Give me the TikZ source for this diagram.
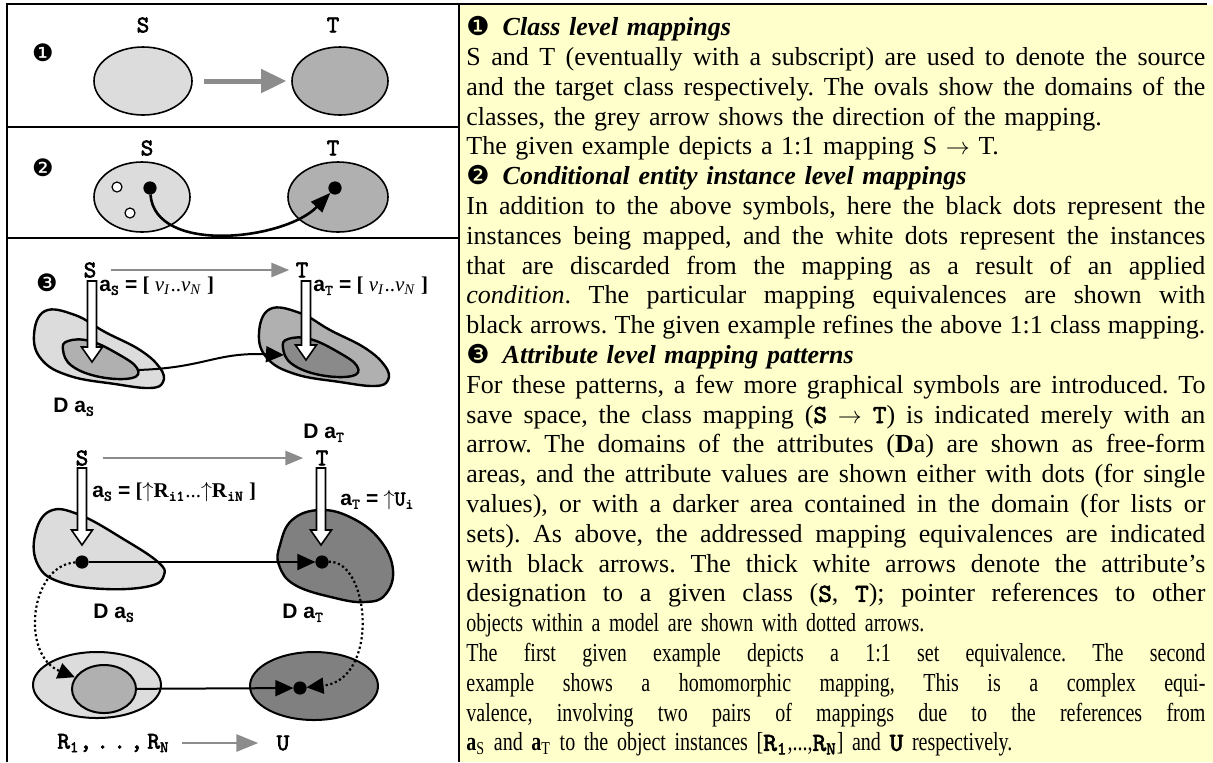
\documentclass[tikz,border=0pt]{standalone}
\usepackage{fontspec}
\setmainfont{Liberation Serif}
\newfontfamily\arialfont{Liberation Sans}
\newfontfamily\dingfont{DejaVu Sans}
\newfontfamily\condfont[FakeStretch=0.77]{Liberation Serif}
\newfontfamily\slabfont[FakeBold=2.5]{lmmono10-regular.otf}
\usepackage{tikz}
\usetikzlibrary{shapes.geometric}
\usetikzlibrary{arrows.meta}
\usepackage{xcolor}

\definecolor{notebg}{HTML}{FFFFCC}
\definecolor{lightdom}{HTML}{DCDCDC}
\definecolor{middom}{HTML}{B0B0B0}
\definecolor{darkdom}{HTML}{8A8A8A}
\definecolor{deepdom}{HTML}{808080}
\definecolor{mapgrey}{HTML}{8C8C8C}

\newlength{\colw}
\setlength{\colw}{369.5pt}
\newcommand{\fullline}[2][]{\leavevmode\hbox to \colw{#1\spaceskip=0.25em plus 1.5em minus 0.06em\relax #2}}
\newcommand{\ctext}[1]{{\slabfont #1}}
\newcommand{\attrname}[1]{{\arialfont\bfseries a}\textsubscript{\slabfont #1}}
\newcommand{\domname}[1]{{\arialfont\bfseries D a}\textsubscript{\slabfont #1}}
\newcommand{\headnum}[1]{{\dingfont\fontsize{13}{13}\selectfont #1}}
% white designation arrow: x, top, tip
\newcommand{\whitearrow}[3]{%
  \draw[line width=0.8pt, fill=white] (#1-4.5,#2) -- (#1+4.5,#2) -- (#1+4.5,#3-15)
    -- (#1+10.5,#3-15) -- (#1,#3) -- (#1-10.5,#3-15) -- (#1-4.5,#3-15) -- cycle;}

\begin{document}
\begin{tikzpicture}[x=0.5pt, y=-0.5pt,
    classlbl/.style={font=\fontsize{12}{13}\selectfont\slabfont, inner sep=1pt},
    lbl/.style={font=\fontsize{10.5}{12}\selectfont, anchor=west, inner sep=0},
    num/.style={font=\fontsize{12}{12}\selectfont\dingfont},
    dom/.style={ellipse, draw, line width=0.8pt, inner sep=0},
    blob/.style={draw, line width=1.2pt},
    dot/.style={circle, draw, line width=0.6pt, fill=black, inner sep=0, minimum size=6pt},
    hole/.style={circle, draw, line width=0.6pt, fill=white, inner sep=0, minimum size=5pt},
    classmap/.style={draw=mapgrey, line width=2.5pt, -{Triangle[length=12.5pt, width=11.5pt]}},
    classmapthin/.style={draw=mapgrey, line width=1.4pt, -{Triangle[length=9pt, width=7pt]}},
    classmapbig/.style={draw=mapgrey, line width=1.4pt, -{Triangle[length=11pt, width=8.5pt]}},
    instmap/.style={line width=1.3pt, -{Triangle[length=10pt, width=7.5pt]}},
    valmap/.style={line width=1pt, -{Triangle[length=9pt, width=8pt]}},
    refmap/.style={line width=1.1pt, dash pattern=on 1.1pt off 1.3pt, -{Triangle[length=8.5pt, width=8pt]}}]

    \useasboundingbox (0,0) rectangle (1213,762);
    \fill[white] (0,0) rectangle (1213,762);

    % frame and note area
    \fill[notebg] (459,5) rectangle (1213,762);
    \draw[line width=1pt] (7,762) -- (7,4) -- (1207,4);
    \draw[line width=1pt] (459,4) -- (459,762);
    \draw[line width=1pt] (7,127) -- (459,127);
    \draw[line width=1pt] (7,238) -- (459,238);

    % class level
    \begin{scope}
        \node[num] (n1) at (43,53) {❶};
        \node[classlbl] (sA) at (143,25) {S};
        \node[classlbl] (tA) at (333,25) {T};
        \node[dom, fill=lightdom, minimum width=49pt, minimum height=34pt] (srcA) at (143,81) {};
        \node[dom, fill=middom, minimum width=48pt, minimum height=34pt] (tgtA) at (340,81) {};
        \draw[classmap, shorten <=5.5pt, shorten >=2.5pt] (srcA.east) -- (tgtA.west);
    \end{scope}

    % conditional instance level
    \begin{scope}
        \node[num] (n2) at (43,168) {❷};
        \node[classlbl] (sB) at (147,148) {S};
        \node[classlbl] (tB) at (333,148) {T};
        \node[dom, fill=lightdom, minimum width=48pt, minimum height=35pt] (srcB) at (142,197) {};
        \node[dom, fill=middom, minimum width=50pt, minimum height=35pt] (tgtB) at (338,197) {};
        \node[hole] (drop1) at (117,187) {};
        \node[hole] (drop2) at (130,213) {};
        \node[dot] (keepS) at (150,188) {};
        \node[dot] (keepT) at (335,188) {};
        \draw[instmap] (keepS) .. controls (155,255) and (285,240) .. (keepT);
    \end{scope}

    % attribute level, set equivalence
    \begin{scope}
        \node[num] (n3) at (47,283) {❸};
        \node[classlbl] (sC) at (90,270) {S};
        \node[classlbl] (tC) at (302,270) {T};
        \draw[classmapthin, shorten <=6pt, shorten >=2pt] (sC) -- (tC);

        \draw[blob, fill=lightdom] plot[smooth cycle, tension=0.7] coordinates {(45,311) (75,315) (105,332) (140,350) (160,368) (163,382) (150,388) (115,384) (70,376) (42,360) (34,335)};
        \draw[blob, fill=middom] plot[smooth cycle, tension=0.7] coordinates {(68,341) (90,341) (118,354) (137,368) (132,378) (100,377) (72,366) (63,350)};
        \draw[blob, fill=middom] plot[smooth cycle, tension=0.7] coordinates {(270,309) (300,313) (330,330) (365,348) (385,366) (388,380) (375,386) (340,382) (295,374) (267,358) (259,333)};
        \draw[blob, fill=darkdom] plot[smooth cycle, tension=0.7] coordinates {(288,339) (310,339) (338,352) (357,366) (352,376) (320,375) (292,364) (283,348)};

        \whitearrow{92}{281}{362}
        \whitearrow{306}{281}{360}
        \node[lbl] (aSC) at (99,286) {\attrname{S} {\arialfont\bfseries =} \textbf{[} \textit{v}\textsubscript{\textit{I}}..\textit{v}\textsubscript{\textit{N}} \textbf{]}};
        \node[lbl] (aTC) at (313,286) {\attrname{T} {\arialfont\bfseries =} \textbf{[} \textit{v}\textsubscript{\textit{I}}..\textit{v}\textsubscript{\textit{N}} \textbf{]}};

        \coordinate (valS) at (137,370);
        \coordinate (valT) at (284,355);
        \draw[valmap] (valS) .. controls (205,368) and (215,352) .. (valT);

        \node[lbl] (dSC) at (53,407) {\domname{S}};
        \node[lbl] (dTC) at (303,433) {\domname{T}};
    \end{scope}

    % attribute level, homomorphic mapping
    \begin{scope}
        \node[classlbl] (sD) at (82,458) {S};
        \node[classlbl] (tD) at (322,458) {T};
        \draw[classmapthin, shorten <=6pt, shorten >=5pt] (sD) -- (tD);

        \draw[blob, fill=lightdom] plot[smooth cycle, tension=0.7] coordinates {(50,511) (80,515) (125,540) (158,562) (164,575) (150,586) (105,589) (60,582) (38,565) (35,535)};
        \draw[blob, fill=deepdom] plot[smooth cycle, tension=0.7] coordinates {(280,545) (292,520) (320,510) (352,518) (380,540) (393,570) (385,595) (365,602) (335,598) (295,585) (279,565)};

        \whitearrow{82}{468}{545}
        \whitearrow{321}{468}{545}
        \node[lbl] (aSD) at (92,492) {\attrname{S} {\arialfont\bfseries =} \textbf{[}$\uparrow$\textbf{R}\textsubscript{\slabfont i1}...$\uparrow$\textbf{R}\textsubscript{\slabfont iN} \textbf{]}};
        \node[lbl] (aTD) at (340,500) {\attrname{T} {\arialfont\bfseries =} $\uparrow$\ctext{U\textsubscript{i}}};

        \node[dot] (refS) at (82,562) {};
        \node[dot] (refT) at (322,562) {};
        \draw[valmap] (refS) -- (refT);

        \node[lbl] (dSD) at (93,613) {\domname{S}};
        \node[lbl] (dTD) at (282,613) {\domname{T}};

        \node[dom, line width=1pt, fill=lightdom, minimum width=64pt, minimum height=33pt] (rOut) at (97,685) {};
        \node[dom, line width=1pt, fill=middom, minimum width=32pt, minimum height=24pt] (rIn) at (104,689) {};
        \node[dom, line width=1pt, fill=deepdom, minimum width=64pt, minimum height=34pt] (uOut) at (314,686) {};
        \node[dot] (uVal) at (300,688) {};
        \draw[valmap] (rIn) -- (uVal);
        \draw[refmap] (refS) .. controls (30,565) and (20,655) .. (rIn);
        \draw[refmap] (refT) .. controls (370,560) and (380,680) .. (uVal);

        \node[classlbl, anchor=west] (rLab) at (55,743) {R\textsubscript{1},\kern2.2pt.\kern2.2pt.\kern2.2pt,\kern2.2pt R\textsubscript{N}};
        \node[classlbl] (uLab) at (283,743) {U};
        \draw[classmapbig, shorten <=5pt, shorten >=8pt] (rLab) -- (uLab);
    \end{scope}

    % explanation column
    \node[anchor=north west, inner sep=0, text width=\colw, align=left,
          font=\fontsize{13}{14.9}\selectfont\frenchspacing] (notes) at (466,16) {%
\headnum{❶}\enspace\textbf{\textit{Class level mappings}}\\
\fullline{S and T (eventually with a subscript) are used to denote the source}\\
\fullline{and the target class respectively. The ovals show the domains of the}\\
classes, the grey arrow shows the direction of the mapping.\\
The given example depicts a 1:1 mapping S $\rightarrow$ T.\\
\headnum{❷}\enspace\textbf{\textit{Conditional entity instance level mappings}}\\
\fullline{In addition to the above symbols, here the black dots represent the}\\
\fullline{instances being mapped, and the white dots represent the instances}\\
\fullline{that are discarded from the mapping as a result of an applied}\\
\fullline{\textit{condition}. The particular mapping equivalences are shown with}\\
\fullline{black arrows. The given example refines the above 1:1 class mapping.}\\
\headnum{❸}\enspace\textbf{\textit{Attribute level mapping patterns}}\\
\fullline{For these patterns, a few more graphical symbols are introduced. To}\\
\fullline{save space, the class mapping (\ctext{S} $\rightarrow$ \ctext{T}) is indicated merely with an}\\
\fullline{arrow. The domains of the attributes (\textbf{D}a) are shown as free-form}\\
\fullline{areas, and the attribute values are shown either with dots (for single}\\
\fullline{values), or with a darker area contained in the domain (for lists or}\\
\fullline{sets). As above, the addressed mapping equivalences are indicated}\\
\fullline{with black arrows. The thick white arrows denote the attribute's}\\
\fullline{designation to a given class (\ctext{S}, \ctext{T}); pointer references to other}\\
{\condfont objects within a model are shown with dotted arrows.}\\
\fullline[\condfont]{The first given example depicts a 1:1 set equivalence. The second}\\
\fullline[\condfont]{example shows a homomorphic mapping, This is a complex equi-}\\
\fullline[\condfont]{valence, involving two pairs of mappings due to the references from}\\
{\condfont\textbf{a}\textsubscript{S} and \textbf{a}\textsubscript{T} to the object instances [\ctext{R\textsubscript{1}},...,\ctext{R\textsubscript{N}}] and \ctext{U} respectively.}};

\end{tikzpicture}
\end{document}
